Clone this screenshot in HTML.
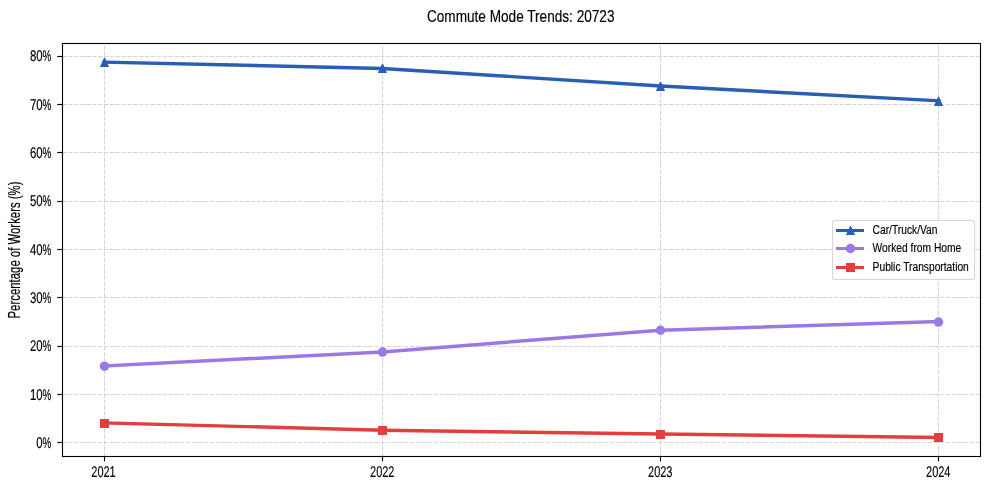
<!DOCTYPE html>
<html lang="en"><head><meta charset="utf-8"><title>Commute Mode Trends: 20723</title>
<style>html,body{margin:0;padding:0;background:#fff;overflow:hidden}svg{display:block}text{font-family:"Liberation Sans", sans-serif;fill:#000;stroke:#000;stroke-width:0.16px;stroke-linejoin:round}</style>
</head><body>
<svg width="990" height="490" viewBox="0 0 990 490">
<rect x="0" y="0" width="990" height="490" fill="#ffffff"/>
<g stroke="#d4d4d4" stroke-width="1" stroke-dasharray="4.3 1.59" fill="none">
<line x1="104.50" y1="456.50" x2="104.50" y2="43.50"/>
<line x1="382.50" y1="456.50" x2="382.50" y2="43.50"/>
<line x1="660.50" y1="456.50" x2="660.50" y2="43.50"/>
<line x1="938.50" y1="456.50" x2="938.50" y2="43.50"/>
<line x1="62.50" y1="442.50" x2="980.50" y2="442.50"/>
<line x1="62.50" y1="394.50" x2="980.50" y2="394.50"/>
<line x1="62.50" y1="346.50" x2="980.50" y2="346.50"/>
<line x1="62.50" y1="297.50" x2="980.50" y2="297.50"/>
<line x1="62.50" y1="249.50" x2="980.50" y2="249.50"/>
<line x1="62.50" y1="201.50" x2="980.50" y2="201.50"/>
<line x1="62.50" y1="152.50" x2="980.50" y2="152.50"/>
<line x1="62.50" y1="104.50" x2="980.50" y2="104.50"/>
<line x1="62.50" y1="56.50" x2="980.50" y2="56.50"/>
</g>
<g stroke="#000" stroke-width="1.11" fill="none">
<line x1="104.50" y1="456.50" x2="104.50" y2="461.40"/>
<line x1="382.50" y1="456.50" x2="382.50" y2="461.40"/>
<line x1="660.50" y1="456.50" x2="660.50" y2="461.40"/>
<line x1="938.50" y1="456.50" x2="938.50" y2="461.40"/>
<line x1="57.30" y1="442.50" x2="62.50" y2="442.50"/>
<line x1="57.30" y1="394.50" x2="62.50" y2="394.50"/>
<line x1="57.30" y1="346.50" x2="62.50" y2="346.50"/>
<line x1="57.30" y1="297.50" x2="62.50" y2="297.50"/>
<line x1="57.30" y1="249.50" x2="62.50" y2="249.50"/>
<line x1="57.30" y1="201.50" x2="62.50" y2="201.50"/>
<line x1="57.30" y1="152.50" x2="62.50" y2="152.50"/>
<line x1="57.30" y1="104.50" x2="62.50" y2="104.50"/>
<line x1="57.30" y1="56.50" x2="62.50" y2="56.50"/>
</g>
<polyline points="104.23,62.13 382.41,68.41 660.59,86.04 938.77,100.77" fill="none" stroke="#285eb3" stroke-width="3.47" stroke-linecap="square" stroke-linejoin="round"/>
<path d="M104.05 57.80L104.95 57.80L109.10 66.90L99.90 66.90Z" fill="#285eb3"/>
<path d="M382.05 63.80L382.95 63.80L387.10 72.90L377.90 72.90Z" fill="#285eb3"/>
<path d="M660.05 81.80L660.95 81.80L665.10 90.90L655.90 90.90Z" fill="#285eb3"/>
<path d="M938.05 96.80L938.95 96.80L943.10 105.90L933.90 105.90Z" fill="#285eb3"/>
<polyline points="104.23,365.94 382.41,351.93 660.59,330.19 938.77,321.55" fill="none" stroke="#9b79e4" stroke-width="3.47" stroke-linecap="square" stroke-linejoin="round"/>
<circle cx="104.50" cy="366.15" r="4.75" fill="#9b79e4"/>
<circle cx="382.50" cy="352.10" r="4.75" fill="#9b79e4"/>
<circle cx="660.50" cy="330.25" r="4.75" fill="#9b79e4"/>
<circle cx="938.50" cy="322.10" r="4.75" fill="#9b79e4"/>
<polyline points="104.23,422.93 382.41,430.18 660.59,434.04 938.77,437.42" fill="none" stroke="#e33d3d" stroke-width="3.47" stroke-linecap="square" stroke-linejoin="round"/>
<rect x="100.00" y="419.00" width="9" height="9" fill="#e33d3d"/>
<rect x="378.00" y="426.00" width="9" height="9" fill="#e33d3d"/>
<rect x="656.00" y="430.00" width="9" height="9" fill="#e33d3d"/>
<rect x="934.00" y="433.00" width="9" height="9" fill="#e33d3d"/>
<rect x="62.50" y="43.50" width="918.00" height="413.00" fill="none" stroke="#000" stroke-width="1.11"/>
<text transform="translate(42.60 447.70) rotate(0.03) scale(0.735 1)" font-size="15.50" text-anchor="end">0</text>
<text transform="translate(42.50 447.70) rotate(0.03) scale(0.635 1)" font-size="15.50" text-anchor="start">%</text>
<text transform="translate(42.60 399.70) rotate(0.03) scale(0.735 1)" font-size="15.50" text-anchor="end">10</text>
<text transform="translate(42.50 399.70) rotate(0.03) scale(0.635 1)" font-size="15.50" text-anchor="start">%</text>
<text transform="translate(42.60 350.70) rotate(0.03) scale(0.735 1)" font-size="15.50" text-anchor="end">20</text>
<text transform="translate(42.50 350.70) rotate(0.03) scale(0.635 1)" font-size="15.50" text-anchor="start">%</text>
<text transform="translate(42.60 302.70) rotate(0.03) scale(0.735 1)" font-size="15.50" text-anchor="end">30</text>
<text transform="translate(42.50 302.70) rotate(0.03) scale(0.635 1)" font-size="15.50" text-anchor="start">%</text>
<text transform="translate(42.60 254.70) rotate(0.03) scale(0.735 1)" font-size="15.50" text-anchor="end">40</text>
<text transform="translate(42.50 254.70) rotate(0.03) scale(0.635 1)" font-size="15.50" text-anchor="start">%</text>
<text transform="translate(42.60 205.70) rotate(0.03) scale(0.735 1)" font-size="15.50" text-anchor="end">50</text>
<text transform="translate(42.50 205.70) rotate(0.03) scale(0.635 1)" font-size="15.50" text-anchor="start">%</text>
<text transform="translate(42.60 157.70) rotate(0.03) scale(0.735 1)" font-size="15.50" text-anchor="end">60</text>
<text transform="translate(42.50 157.70) rotate(0.03) scale(0.635 1)" font-size="15.50" text-anchor="start">%</text>
<text transform="translate(42.60 109.70) rotate(0.03) scale(0.735 1)" font-size="15.50" text-anchor="end">70</text>
<text transform="translate(42.50 109.70) rotate(0.03) scale(0.635 1)" font-size="15.50" text-anchor="start">%</text>
<text transform="translate(42.60 60.70) rotate(0.03) scale(0.735 1)" font-size="15.50" text-anchor="end">80</text>
<text transform="translate(42.50 60.70) rotate(0.03) scale(0.635 1)" font-size="15.50" text-anchor="start">%</text>
<text transform="translate(103.50 476.70) rotate(0.03) scale(0.710 1)" font-size="15.50" text-anchor="middle">2021</text>
<text transform="translate(382.25 476.70) rotate(0.03) scale(0.710 1)" font-size="15.50" text-anchor="middle">2022</text>
<text transform="translate(660.25 476.70) rotate(0.03) scale(0.710 1)" font-size="15.50" text-anchor="middle">2023</text>
<text transform="translate(938.25 476.70) rotate(0.03) scale(0.710 1)" font-size="15.50" text-anchor="middle">2024</text>
<text transform="translate(520.70 21.80) scale(0.830 1)" font-size="16.40" text-anchor="middle">Commute Mode Trends: 20723</text>
<text transform="translate(19.90 250.00) rotate(-90) scale(0.716 1)" font-size="15.90" text-anchor="middle">Percentage of Workers (%)</text>
<rect x="832.50" y="220.50" width="142.00" height="59.00" rx="2.5" ry="2.5" fill="#ffffff" fill-opacity="0.8" stroke="#cccccc" stroke-opacity="0.8" stroke-width="1.11"/>
<rect x="836" y="229.00" width="28" height="3" fill="#285eb3"/>
<path d="M850.05 225.90L850.95 225.90L855.10 235.00L845.90 235.00Z" fill="#285eb3"/>
<text transform="translate(872.60 233.90) scale(0.820 1)" font-size="12.50" text-anchor="start">Car/Truck/Van</text>
<rect x="836" y="247.00" width="28" height="3" fill="#9b79e4"/>
<circle cx="850.50" cy="248.50" r="4.75" fill="#9b79e4"/>
<text transform="translate(872.60 251.90) scale(0.820 1)" font-size="12.50" text-anchor="start">Worked from Home</text>
<rect x="836" y="266.00" width="28" height="3" fill="#e33d3d"/>
<rect x="846.00" y="263.00" width="9" height="9" fill="#e33d3d"/>
<text transform="translate(872.60 270.90) scale(0.820 1)" font-size="12.50" text-anchor="start">Public Transportation</text>
</svg>
</body></html>
